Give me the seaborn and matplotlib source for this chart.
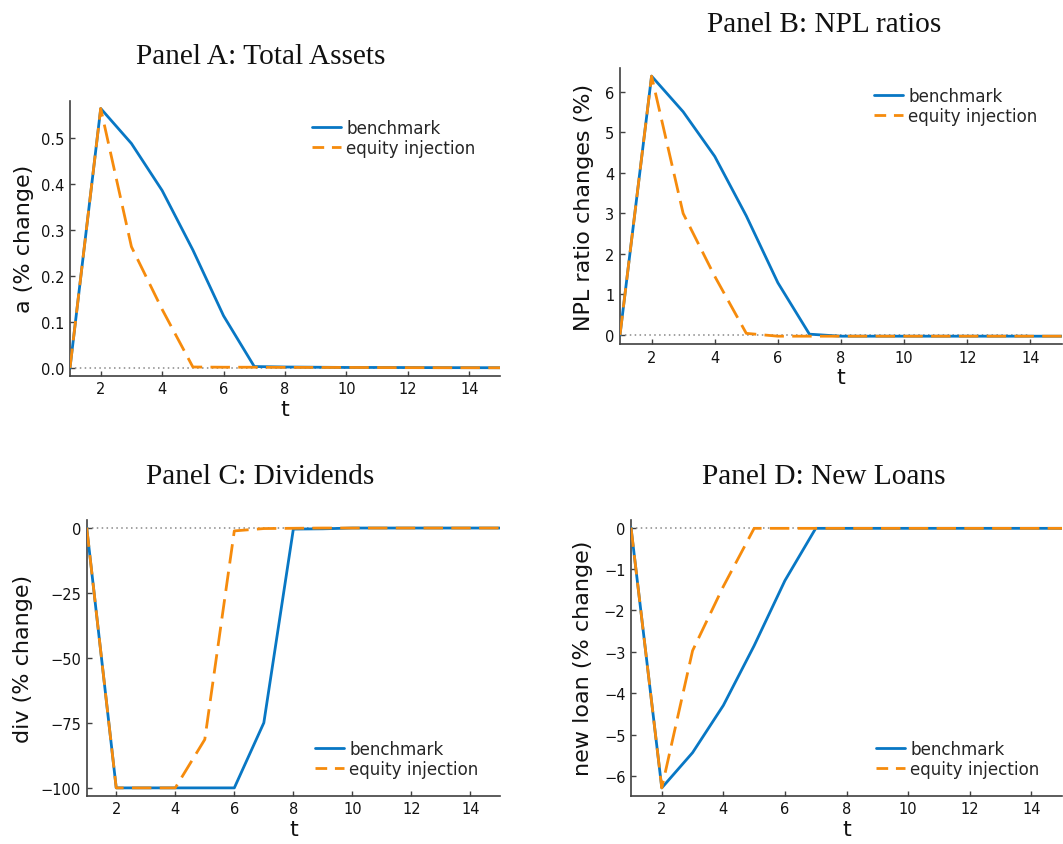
import matplotlib
matplotlib.use("Agg")
import matplotlib.pyplot as plt
import seaborn as sns
import numpy as np

# Impulse responses over t = 1..15
t = list(range(1, 16))

assets_benchmark = [0.0, 0.563, 0.487, 0.385, 0.256, 0.113, 0.003, 0.002, 0.0015, 0.001, 0.001, 0.0008, 0.0006, 0.0005, 0.0004]
assets_equity = [0.0, 0.563, 0.263, 0.127, 0.002, 0.0015, 0.0015, 0.0012, 0.001, 0.001, 0.0008, 0.0006, 0.0005, 0.0004, 0.0003]

npl_benchmark = [0.0, 6.39, 5.51, 4.41, 2.94, 1.29, 0.02, -0.03, -0.03, -0.03, -0.03, -0.03, -0.03, -0.03, -0.03]
npl_equity = [0.0, 6.39, 3.0, 1.45, 0.04, -0.03, -0.03, -0.03, -0.03, -0.03, -0.03, -0.03, -0.03, -0.03, -0.03]

div_benchmark = [0.0, -100.0, -100.0, -100.0, -100.0, -100.0, -75.0, -0.6, -0.5, -0.2, -0.2, -0.2, -0.2, -0.2, -0.2]
div_equity = [0.0, -100.0, -100.0, -100.0, -81.4, -1.3, -0.4, -0.3, -0.2, -0.2, -0.2, -0.2, -0.2, -0.2, -0.2]

loan_benchmark = [0.0, -6.28, -5.43, -4.29, -2.85, -1.28, -0.02, -0.02, -0.02, -0.02, -0.02, -0.02, -0.02, -0.02, -0.02]
loan_equity = [0.0, -6.28, -2.97, -1.42, -0.02, -0.02, -0.02, -0.02, -0.02, -0.02, -0.02, -0.02, -0.02, -0.02, -0.02]

zero_t = list(range(1, 15))
zero_line = [0.0] * len(zero_t)

x_ticks = [2, 4, 6, 8, 10, 12, 14]

titles = ["Panel A: Total Assets", "Panel B: NPL ratios", "Panel C: Dividends", "Panel D: New Loans"]
ylabels = ["a (% change)", "NPL ratio changes (%)", "div (% change)", "new loan (% change)"]
y_ticks = [
    [0.0, 0.1, 0.2, 0.3, 0.4, 0.5],
    [0, 1, 2, 3, 4, 5, 6],
    [0, -25, -50, -75, -100],
    [0, -1, -2, -3, -4, -5, -6],
]
y_ticklabels = [
    ["0.0", "0.1", "0.2", "0.3", "0.4", "0.5"],
    ["0", "1", "2", "3", "4", "5", "6"],
    ["0", "\u221225", "\u221250", "\u221275", "\u2212100"],
    ["0", "\u22121", "\u22122", "\u22123", "\u22124", "\u22125", "\u22126"],
]
series = [
    (assets_benchmark, assets_equity),
    (npl_benchmark, npl_equity),
    (div_benchmark, div_equity),
    (loan_benchmark, loan_equity),
]
legend_labels = ["benchmark", "equity injection"]

sns.set_theme(style="white")
plt.rcParams["font.family"] = ["DejaVu Sans"]

W, H = 1063, 845
fig = plt.figure(figsize=(W / 100, H / 100), dpi=100)

# axes boxes in pixels: left, top, right, bottom
boxes = [
    (70, 101.7, 500, 376.7),
    (620, 69.3, 1062, 345),
    (86.7, 520.7, 500, 796.7),
    (631, 520.7, 1062, 796.7),
]
title_pos = [(260.5, 64.5), (824.5, 31.5), (260.5, 484.5), (824, 484.5)]
legend_pos = [(312, 139), (874, 106.8), (315, 760), (876, 760)]
ylabel_pad = [5, 8, 6, 8]

blue = "#0877C4"
orange = "#F68B0C"
spine_col = "#404040"

for i in range(4):
    l, tp, r, b = boxes[i]
    ax = fig.add_axes([l / W, 1 - b / H, (r - l) / W, (b - tp) / H])
    ax.set_facecolor("white")
    bench, equity = series[i]

    ax.plot(zero_t, zero_line, color="#888888", linestyle=(0, (1, 2.2)), lw=1.1, zorder=1)
    sns.lineplot(x=t, y=bench, ax=ax, color=blue, lw=2.0, label=legend_labels[0], zorder=3)
    sns.lineplot(x=t, y=equity, ax=ax, color=orange, lw=2.0, linestyle=(0, (7, 3)),
                 label=legend_labels[1], zorder=4)

    ax.set_xlim(1, 15)
    allv = np.array(bench + equity + zero_line)
    lo, hi = allv.min(), allv.max()
    m = 0.03 * (hi - lo)
    ax.set_ylim(lo - m, hi + m)

    ax.set_xticks(x_ticks)
    ax.set_xticklabels([str(v) for v in x_ticks])
    ax.set_yticks(y_ticks[i])
    ax.set_yticklabels(y_ticklabels[i])
    ax.tick_params(axis="both", which="both", direction="in", length=3.5, width=1.0,
                   color=spine_col, labelsize=10.5, labelcolor="#111111", pad=4,
                   bottom=True, left=True, top=False, right=False)

    for s in ["top", "right"]:
        ax.spines[s].set_visible(False)
    for s in ["left", "bottom"]:
        ax.spines[s].set_color(spine_col)
        ax.spines[s].set_linewidth(1.2)
    ax.grid(False)

    ax.set_xlabel("t", fontsize=16, color="#111111", labelpad=2)
    ax.set_ylabel(ylabels[i], fontsize=16, color="#111111", labelpad=ylabel_pad[i])

    lx, ly = legend_pos[i]
    leg = ax.legend(loc="center left", bbox_to_anchor=(lx / W, 1 - ly / H),
                    bbox_transform=fig.transFigure, frameon=False, fontsize=12.1,
                    handlelength=1.75, handletextpad=0.3, labelspacing=0.12,
                    borderpad=0, borderaxespad=0)
    # shorter dash rhythm so the legend sample shows two dashes
    leg.get_lines()[1].set_linestyle((0, (4.2, 2.8)))

    tx, ty = title_pos[i]
    fig.text(tx / W, 1 - ty / H, titles[i], ha="center", va="baseline",
             fontsize=21.2, family=["Liberation Serif", "DejaVu Serif"], color="#111111")

fig.savefig("out.png", dpi=100, facecolor="white")
